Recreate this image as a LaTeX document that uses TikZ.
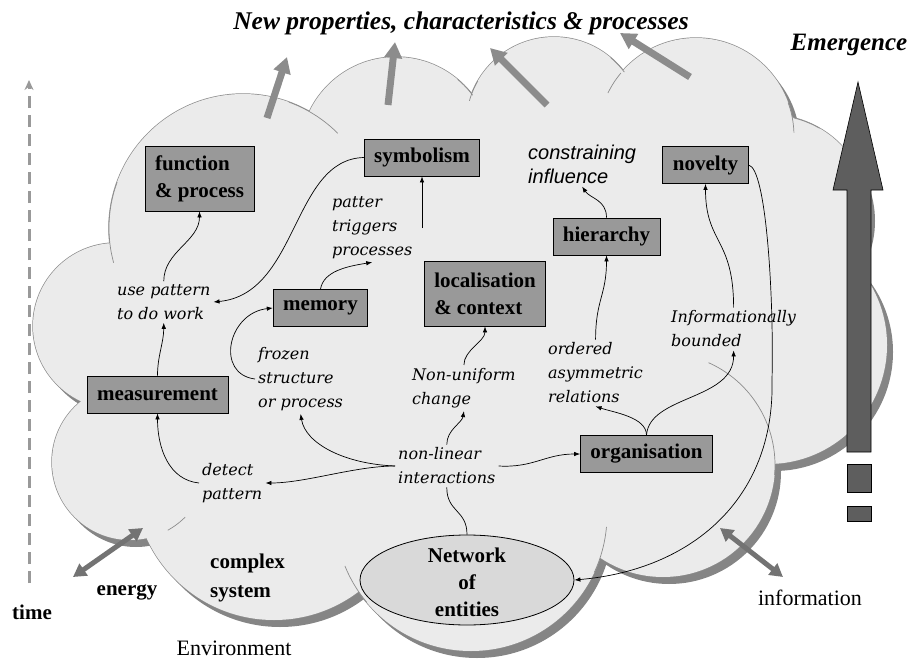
\documentclass[tikz,border=0pt]{standalone}
\usepackage{fontspec}
\setmainfont{Liberation Serif}
\newfontfamily\notefont{DejaVu Serif}
\newfontfamily\arialfont{Liberation Sans}
\usetikzlibrary{arrows.meta,shapes.geometric}

\definecolor{cloudfill}{gray}{0.92}
\definecolor{cloudline}{gray}{0.55}
\definecolor{shadowgray}{gray}{0.52}
\definecolor{boxgray}{gray}{0.6}
\definecolor{netfill}{gray}{0.85}
\definecolor{propgray}{gray}{0.55}
\definecolor{flowgray}{gray}{0.45}
\definecolor{emergray}{gray}{0.37}
\definecolor{timegray}{gray}{0.6}

% lobes of the cloud: x/y/radius
\newcommand{\lobelist}{116/326/83, 130/462/78, 274/480/140, 471/515/136, 663/465/112, 768/345/119, 770/214/99, 696/136/98, 554/125/88, 396/153/96, 243/228/134}

\begin{document}
\begin{tikzpicture}[x=1pt,y=-1pt,
	box/.style={draw=black,fill=boxgray,line width=0.8pt,minimum height=37pt,inner xsep=10pt,inner ysep=2pt,font=\fontsize{21}{27}\selectfont\bfseries},
	note/.style={anchor=west,align=left,inner sep=3pt,font=\notefont\itshape\fontsize{16}{24}\selectfont},
	link/.style={line width=0.7pt,-{Latex[length=6pt,width=4.5pt]}},
	outtext/.style={font=\fontsize{21}{29}\selectfont\bfseries}]

	\useasboundingbox (0,0) rectangle (911,661);

	% cloud
	\begin{scope}[shift={(6,7)}]
		\foreach \cx/\cy/\r in \lobelist {\fill[shadowgray] (\cx,\cy) circle[radius=\r pt];}
	\end{scope}
	\foreach \cx/\cy/\r in \lobelist {\draw[cloudline,line width=1.4pt] (\cx,\cy) circle[radius=\r pt];}
	\foreach \cx/\cy/\r in \lobelist {\fill[cloudfill] (\cx,\cy) circle[radius=\r pt];}
	\fill[cloudfill] (116,326) -- (243,228) -- (396,153) -- (554,125) -- (696,136) -- (770,214) -- (768,345) -- (663,465) -- (471,515) -- (274,480) -- (130,462) -- cycle;
	\draw[cloudline,line width=0.7pt] plot[domain=-66:5,smooth,samples=20] ({663+112*cos(\x)},{465+112*sin(\x)});
	\draw[cloudline,line width=0.7pt] plot[domain=140:158,smooth,samples=8] ({471+136*cos(\x)},{515+136*sin(\x)});
	\draw[cloudline,line width=0.7pt] plot[domain=5:25,smooth,samples=8] ({471+136*cos(\x)},{515+136*sin(\x)});
	\draw[cloudline,line width=0.7pt] plot[domain=-70:-45,smooth,samples=8] ({243+134*cos(\x)},{228+134*sin(\x)});
	\draw[cloudline,line width=0.7pt] plot[domain=-50:-37,smooth,samples=6] ({396+96*cos(\x)},{153+96*sin(\x)});
	\draw[cloudline,line width=0.7pt] plot[domain=-164:-150,smooth,samples=6] ({554+88*cos(\x)},{125+88*sin(\x)});
	\draw[cloudline,line width=0.7pt] plot[domain=-50:-37,smooth,samples=6] ({554+88*cos(\x)},{125+88*sin(\x)});
	\draw[cloudline,line width=0.7pt] plot[domain=-154:-140,smooth,samples=6] ({696+98*cos(\x)},{136+98*sin(\x)});
	\draw[cloudline,line width=0.7pt] plot[domain=-20:-2,smooth,samples=6] ({696+98*cos(\x)},{136+98*sin(\x)});
	\draw[cloudline,line width=0.7pt] plot[domain=-76:-60,smooth,samples=6] ({770+99*cos(\x)},{214+99*sin(\x)});
	\draw[cloudline,line width=0.7pt] plot[domain=165:200,smooth,samples=8] ({243+134*cos(\x)},{228+134*sin(\x)});
	\draw[cloudline,line width=0.7pt] plot[domain=45:61,smooth,samples=6] ({130+78*cos(\x)},{462+78*sin(\x)});

	% emergence
	\draw[fill=emergray,line width=0.6pt] (847,452) -- (847,190) -- (833,190) -- (858,82) -- (883,190) -- (871,190) -- (871,452) -- cycle;
	\draw[fill=emergray,line width=0.6pt] (847,464) rectangle (871,492);
	\draw[fill=emergray,line width=0.6pt] (847,506) rectangle (871,521);

	% new properties
	\draw[propgray,line width=7pt,-{Triangle[length=16pt,width=17pt]}] (267,118) -- (287,57);
	\draw[propgray,line width=7pt,-{Triangle[length=16pt,width=17pt]}] (388,105) -- (395,42);
	\draw[propgray,line width=7pt,-{Triangle[length=16pt,width=17pt]}] (547,105) -- (490,48);
	\draw[propgray,line width=7pt,-{Triangle[length=16pt,width=17pt]}] (690,77) -- (620,33);

	% exchanges with the environment
	\draw[flowgray,line width=5pt,{Triangle[length=13pt,width=14pt]}-{Triangle[length=13pt,width=14pt]}] (143,528) -- (73,577);
	\draw[flowgray,line width=5pt,{Triangle[length=13pt,width=14pt]}-{Triangle[length=13pt,width=14pt]}] (720,528) -- (783,577);
	\draw[timegray,line width=3pt,dash pattern=on 12pt off 7pt,-{Stealth[length=10pt,width=9pt]}] (29,583) -- (29,80);

	\node[ellipse,draw=black,fill=netfill,line width=0.8pt,minimum width=214pt,minimum height=90pt,inner sep=0pt] (net) at (467,580) {};
	\node[font=\fontsize{21}{27}\selectfont\bfseries,align=center] (nettext) at (467,582) {Network\\of\\entities};

	\node[box,align=left,minimum height=65pt] (func) at (199.5,178.5) {function\\\& process};
	\node[box] (symb) at (422,157.5) {symbolism};
	\node[box] (mem) at (320.5,308) {memory};
	\node[box,align=left,minimum height=65pt] (loc) at (485,293.5) {localisation\\\& context};
	\node[box] (hier) at (606.5,236.5) {hierarchy};
	\node[box] (nov) at (705.5,165) {novelty};
	\node[box] (org) at (646.5,454) {organisation};
	\node[box] (meas) at (157.5,394.5) {measurement};

	\node[note] (usep) at (114,302) {use pattern\\to do work};
	\node[note] (trig) at (329,228) {patter\\triggers\\processes};
	\node[note] (froz) at (255,379) {frozen\\structure\\or process};
	\node[note] (nonu) at (409,388) {Non-uniform\\change};
	\node[note] (nonlin) at (395,466) {non-linear\\interactions};
	\node[note] (det) at (199,483) {detect\\pattern};
	\node[note] (ord) at (545,373) {ordered\\asymmetric\\relations};
	\node[note] (inf) at (668,329) {Informationally\\bounded};
	\node[note,font=\arialfont\itshape\fontsize{20}{24}\selectfont] (cons) at (525,164) {constraining\\influence};

	\draw[link] (meas.north) .. controls +(0,-20) and +(0,20) .. (usep.south);
	\draw[link] (usep.north) .. controls +(0,-30) and +(0,30) .. (func.south);
	\draw[link] (symb.west) .. controls +(-72,2) and +(85,-8) .. (usep.east);
	\draw[link] (symb.south |- trig.east) -- (symb.south);
	\draw[link] (mem.north) .. controls +(3,-18) and +(-25,4) .. (trig.south);
	\draw[link] (froz.west) .. controls +(-40,-5) and +(-45,5) .. (mem.west);
	\draw[link] (det.west) .. controls +(-30,-3) and +(0,35) .. (meas.south);
	\draw[link] (nonlin.west) .. controls +(-50,-2) and +(5,30) .. (froz.south);
	\draw[link] (nonlin.west) .. controls +(-40,0) and +(40,0) .. (det.east);
	\draw[link] (nonlin.north) .. controls +(0,-15) and +(-2,12) .. (nonu.south);
	\draw[link] (nonu.north) .. controls +(0,-15) and +(0,15) .. (loc.south);
	\draw[link] (nonlin.east) .. controls +(35,2) and +(-35,0) .. (org.west);
	\draw[line width=0.7pt] (nonlin.south) .. controls +(0,25) and +(0,-25) .. (net.north);
	\draw[link] (org.north) .. controls +(0,-18) and +(18,6) .. (ord.south);
	\draw[link] (org.north) .. controls +(3,-40) and +(0,50) .. (inf.south);
	\draw[link] (ord.north) .. controls +(0,-40) and +(0,40) .. (hier.south);
	\draw[link] (hier.north) .. controls +(0,-18) and +(8,12) .. (cons.south);
	\draw[link] (inf.north) .. controls +(0,-70) and +(0,60) .. (nov.south);
	\draw[link] (nov.east) .. controls +(18,3) and +(2,-80) .. (772,380) .. controls +(3,120) and +(116,-10) .. (net.east);

	\node[font=\fontsize{25.5}{28}\selectfont\bfseries\itshape] (title) at (461,23) {New properties, characteristics \& processes};
	\node[font=\fontsize{25}{28}\selectfont\bfseries\itshape] (emerg) at (849,45) {Emergence};
	\node[outtext] (timelbl) at (32,612) {time};
	\node[outtext] (energy) at (127,592) {energy};
	\node[outtext,anchor=west,align=left,inner sep=0pt] (cmplx) at (210,578) {complex\\system};
	\node[font=\fontsize{22}{26}\selectfont,inner sep=0pt] (envir) at (234,648) {Environment};
	\node[font=\fontsize{22}{26}\selectfont] (info) at (810,598) {information};
\end{tikzpicture}
\end{document}
